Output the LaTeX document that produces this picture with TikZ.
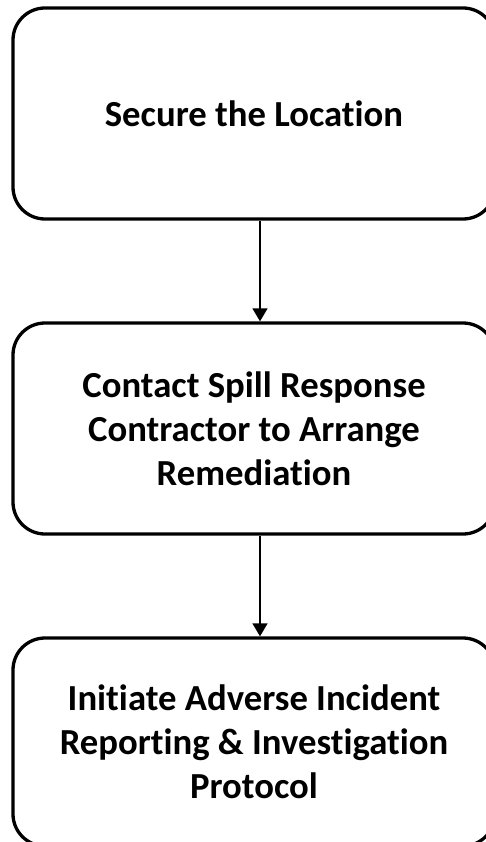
\documentclass[tikz,border=0pt]{standalone}
\usepackage{fontspec}
\setmainfont{Carlito}[RawFeature={-liga;-dlig;-clig}]
\usetikzlibrary{arrows.meta,calc}
\tikzset{
  stepbox/.style={draw=black, line width=3.3pt, rounded corners=32pt,
    minimum width=482pt, minimum height=211pt, align=center, inner sep=0pt,
    font=\fontsize{36.7}{44}\selectfont\bfseries},
  flow/.style={draw=black, line width=1.5pt, -{Triangle[width=15pt,length=13pt]}}
}
\begin{document}
\begin{tikzpicture}[x=1pt,y=1pt]
\useasboundingbox (0,0) rectangle (486,-842);
\node[stepbox] (a) at (254,-113.5) {Secure the Location};
\node[stepbox] (b) at (254,-428.5) {Contact Spill Response\\Contractor to Arrange\\Remediation};
\node[stepbox, minimum height=208pt] (c) at (254,-742) {Initiate Adverse Incident\\Reporting \& Investigation\\Protocol};
\draw[flow] ([xshift=6pt]a.south) -- ([xshift=6pt]b.north);
\draw[flow] ([xshift=6pt]b.south) -- ([xshift=6pt]c.north);
\end{tikzpicture}
\end{document}
